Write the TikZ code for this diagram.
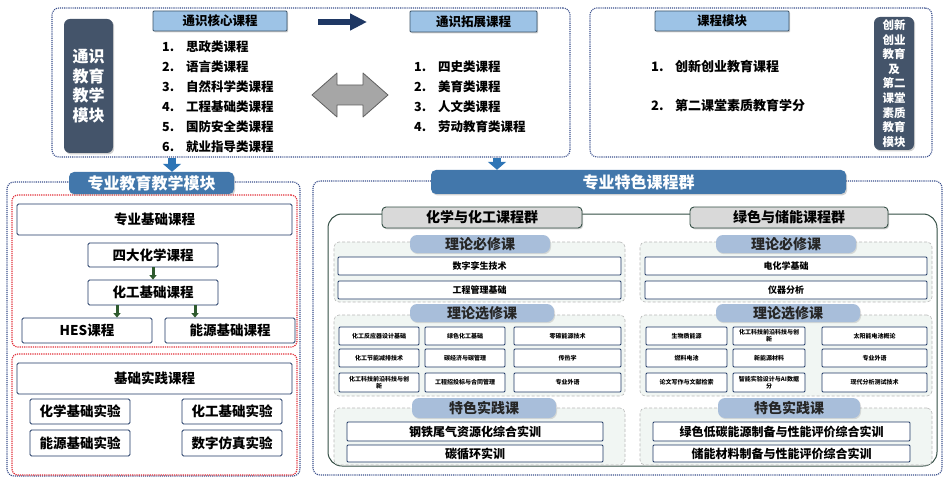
\documentclass[tikz,border=0pt]{standalone}
\usepackage{fontspec}
\setmainfont{Noto Sans CJK SC}
\usetikzlibrary{arrows.meta,shadows}
\definecolor{navy}{HTML}{1F3864}
\definecolor{dotc}{HTML}{3A4F8C}
\definecolor{redc}{HTML}{E2303A}
\definecolor{lblue}{HTML}{9DC3E6}
\definecolor{hdrline}{HTML}{3C5468}
\definecolor{slate}{HTML}{44546A}
\definecolor{steel}{HTML}{4277AB}
\definecolor{lgray}{HTML}{D9D9D9}
\definecolor{dgreen}{HTML}{344F45}
\definecolor{ggarrow}{HTML}{2E5A2E}
\definecolor{pillc}{HTML}{A8BEDA}
\definecolor{sectc}{HTML}{F1F6F3}
\definecolor{abiue}{HTML}{2E75B6}
\definecolor{garr}{HTML}{A6A6A6}
\newcommand\fz[2]{\fontsize{#1}{#2}\selectfont\bfseries}
\newcommand\RB[7]{\node[#1,minimum width={(#5-#3)*1pt},minimum height={(#6-#4)*1pt},inner sep=0pt] (#2) at ({(#3+#5)/2},{(#4+#6)/2}) {#7};}
\tikzset{
  shd/.style={drop shadow={shadow xshift=1.2pt,shadow yshift=-1.4pt,opacity=0.35}},
  dotblue/.style={draw=dotc,densely dotted,line width=1.1pt,rounded corners=7pt},
  dotred/.style={draw=redc,densely dotted,line width=1.2pt,rounded corners=6pt},
  nbox/.style={draw=navy,line width=0.8pt,fill=white,rounded corners=1.5pt,font=\fz{13.5}{16}},
  lbhdr/.style={shd,fill=lblue,draw=hdrline,line width=0.8pt,rounded corners=1pt,font=\fz{12.5}{15}},
  darkmod/.style={shd,fill=slate,rounded corners=6pt,text=white,align=center},
  bluehdr/.style={shd,fill=steel,rounded corners=5pt,text=white,font=\fz{16}{18}},
  grpline/.style={draw=dgreen,line width=1pt,rounded corners=14pt},
  grphdr/.style={shd,fill=lgray,draw=dgreen,line width=0.9pt,rounded corners=4pt,font=\fz{14}{16}},
  pill/.style={drop shadow={shadow xshift=1pt,shadow yshift=-1.2pt,opacity=0.25},fill=pillc,rounded corners=7pt,font=\fz{14}{16},text=black!85},
  sect/.style={fill=sectc,draw=gray!55,densely dashed,line width=0.6pt,rounded corners=5pt},
  cbox/.style={draw=navy,line width=0.8pt,fill=white,rounded corners=1pt,font=\fz{9}{11}},
  tcell/.style={draw=navy,line width=0.8pt,fill=white,rounded corners=1pt,font=\fz{6}{7},align=center},
  pbox/.style={draw=navy,line width=0.8pt,fill=white,rounded corners=1pt,font=\fz{12}{14}},
  item/.style={anchor=west,inner sep=0pt,font=\fz{12.5}{15}},
  garrow/.style={draw=ggarrow,line width=3pt,-{Triangle[width=7pt,length=4.5pt]}},
  barrow/.style={draw=abiue,line width=8pt,-{Triangle[width=18pt,length=8pt]}},
  narrow/.style={draw=navy,line width=6pt,-{Triangle[width=16pt,length=17pt]}}
}
\begin{document}
\begin{tikzpicture}[x=1pt,y=-1pt]
\useasboundingbox[fill=white] (0,0) rectangle (947,481);
% ---------- top-left general education
\RB{dotblue}{gen}{52}{8}{570}{157}{}
\RB{darkmod,font=\fz{16}{19.5}}{tsm}{64}{19}{113}{153}{通识\\教育\\教学\\模块}
\RB{lbhdr}{hx}{153}{11}{287}{31}{通识核心课程}
\node[item] (c1) at (162,47) {\makebox[24pt][l]{1.}思政类课程};
\node[item] (c2) at (162,67) {\makebox[24pt][l]{2.}语言类课程};
\node[item] (c3) at (162,87) {\makebox[24pt][l]{3.}自然科学类课程};
\node[item] (c4) at (162,107) {\makebox[24pt][l]{4.}工程基础类课程};
\node[item] (c5) at (162,127) {\makebox[24pt][l]{5.}国防安全类课程};
\node[item] (c6) at (162,147) {\makebox[24pt][l]{6.}就业指导类课程};
\coordinate (na) at (318,22);
\coordinate (nb) at (367,22);
\draw[narrow] (na) -- (nb);
\filldraw[fill=garr,draw=gray!75!black,line width=0.8pt,line join=round]
  (312,95) -- (337,73) -- (337,85) -- (363,85) -- (363,73) -- (388,95)
  -- (363,117) -- (363,105) -- (337,105) -- (337,117) -- cycle;
\RB{lbhdr}{tz}{410}{11}{537}{32}{通识拓展课程}
\node[item] (e1) at (414,67) {\makebox[24pt][l]{1.}四史类课程};
\node[item] (e2) at (414,87) {\makebox[24pt][l]{2.}美育类课程};
\node[item] (e3) at (414,107) {\makebox[24pt][l]{3.}人文类课程};
\node[item] (e4) at (414,127) {\makebox[24pt][l]{4.}劳动教育类课程};
% ---------- top-right
\RB{dotblue}{cxb}{590}{8}{932}{157}{}
\RB{lbhdr}{kcmk}{655}{11}{789}{31}{课程模块}
\node[item,font=\fz{13}{15}] (m1) at (651,66) {\makebox[24pt][l]{1.}创新创业教育课程};
\node[item,font=\fz{13}{15}] (m2) at (651,105) {\makebox[24pt][l]{2.}第二课堂素质教育学分};
\RB{darkmod,font=\fz{11.5}{14.6}}{cxm}{874}{17}{914}{150}{创新\\创业\\教育\\及\\第二\\课堂\\素质\\教育\\模块}
% ---------- bottom-left professional module
\RB{dotblue}{zyo}{7}{182}{300}{476}{}
\RB{dotred}{r1}{12}{195}{297}{347}{}
\RB{nbox}{zyjc}{17}{204}{292}{235}{专业基础课程}
\RB{nbox}{sida}{88}{243}{218}{267}{四大化学课程}
\RB{nbox}{hgjc}{88}{280}{218}{305}{化工基础课程}
\RB{nbox}{hes}{22}{318}{152}{343}{HES课程}
\RB{nbox}{nyjc}{165}{318}{295}{343}{能源基础课程}
\RB{dotred}{r2}{12}{354}{297}{475}{}
\RB{nbox}{jcsj}{17}{363}{292}{394}{基础实践课程}
\RB{nbox}{hxsy}{30}{399}{130}{424}{化学基础实验}
\RB{nbox}{hgsy}{182}{399}{282}{424}{化工基础实验}
\RB{nbox}{nysy}{30}{430}{130}{456}{能源基础实验}
\RB{nbox}{szsy}{182}{430}{282}{456}{数字仿真实验}
\coordinate (xa) at (117,0);
\coordinate (xb) at (195,0);
\draw[garrow] (sida.south) -- (hgjc.north);
\draw[garrow] (hgjc.south -| xa) -- (hes.north -| xa);
\draw[garrow] (hgjc.south -| xb) -- (nyjc.north -| xb);
\RB{bluehdr}{zyh}{69}{172}{234}{194}{专业教育教学模块}
% ---------- bottom-right featured group
\RB{dotblue}{tso}{313}{181}{942}{475}{}
\RB{grpline}{grp}{328}{214}{937}{466}{}
\RB{bluehdr}{tsh}{431}{170}{846}{194}{专业特色课程群}
\RB{grphdr}{g1}{382}{207}{582}{228}{化学与化工课程群}
\RB{grphdr}{g2}{690}{207}{888}{228}{绿色与储能课程群}
% left group
\RB{sect}{l1}{334}{242}{625}{302}{}
\RB{pill}{l1p}{410}{235}{550}{253}{理论必修课}
\RB{cbox}{l1a}{338}{257}{621}{275}{数字孪生技术}
\RB{cbox}{l1b}{338}{281}{621}{299}{工程管理基础}
\RB{sect}{l2}{334}{315}{625}{396}{}
\RB{pill}{l2p}{410}{304}{554}{322}{理论选修课}
\RB{tcell}{la1}{339}{327}{419}{345}{化工反应器设计基础}
\RB{tcell}{la2}{425}{327}{505}{345}{绿色化工基础}
\RB{tcell}{la3}{514}{327}{621}{345}{零碳能源技术}
\RB{tcell}{lb1}{339}{349}{419}{367}{化工节能减排技术}
\RB{tcell}{lb2}{425}{349}{505}{367}{碳经济与碳管理}
\RB{tcell}{lb3}{514}{349}{621}{367}{传热学}
\RB{tcell}{lc1}{339}{373}{419}{392}{化工科技前沿科技与创\\新}
\RB{tcell}{lc2}{425}{373}{505}{392}{工程招投标与合同管理}
\RB{tcell}{lc3}{514}{373}{621}{392}{专业外语}
\RB{sect}{l3}{334}{408}{625}{465}{}
\RB{pill}{l3p}{412}{398}{556}{418}{特色实践课}
\RB{pbox}{l3a}{347}{422}{603}{441}{钢铁尾气资源化综合实训}
\RB{pbox}{l3b}{347}{445}{603}{462}{碳循环实训}
% right group
\RB{sect}{r1s}{640}{242}{932}{302}{}
\RB{pill}{r1p}{716}{235}{856}{253}{理论必修课}
\RB{cbox}{r1a}{645}{257}{927}{275}{电化学基础}
\RB{cbox}{r1b}{645}{281}{927}{299}{仪器分析}
\RB{sect}{r2s}{640}{315}{932}{396}{}
\RB{pill}{r2p}{716}{304}{860}{322}{理论选修课}
\RB{tcell}{ra1}{646}{327}{727}{345}{生物质能源}
\RB{tcell}{ra2}{733}{327}{805}{345}{化工科技前沿科技与创\\新}
\RB{tcell}{ra3}{822}{327}{927}{345}{太阳能电池概论}
\RB{tcell}{rb1}{646}{349}{727}{367}{燃料电池}
\RB{tcell}{rb2}{733}{349}{805}{367}{新能源材料}
\RB{tcell}{rb3}{822}{349}{927}{367}{专业外语}
\RB{tcell}{rc1}{646}{373}{727}{392}{论文写作与文献检索}
\RB{tcell}{rc2}{733}{373}{805}{392}{智能实验设计与AI数据\\分}
\RB{tcell}{rc3}{822}{373}{927}{392}{现代分析测试技术}
\RB{sect}{r3s}{640}{408}{932}{465}{}
\RB{pill}{r3p}{718}{398}{860}{418}{特色实践课}
\RB{pbox}{r3a}{653}{422}{910}{441}{绿色低碳能源制备与性能评价综合实训}
\RB{pbox}{r3b}{653}{445}{910}{462}{储能材料制备与性能评价综合实训}
% ---------- blue down arrows
\coordinate (xl) at (172,0);
\coordinate (xr) at (497,0);
\draw[barrow] (gen.south -| xl) -- (zyh.north -| xl);
\draw[barrow] (gen.south -| xr) -- (tsh.north -| xr);
\end{tikzpicture}
\end{document}
